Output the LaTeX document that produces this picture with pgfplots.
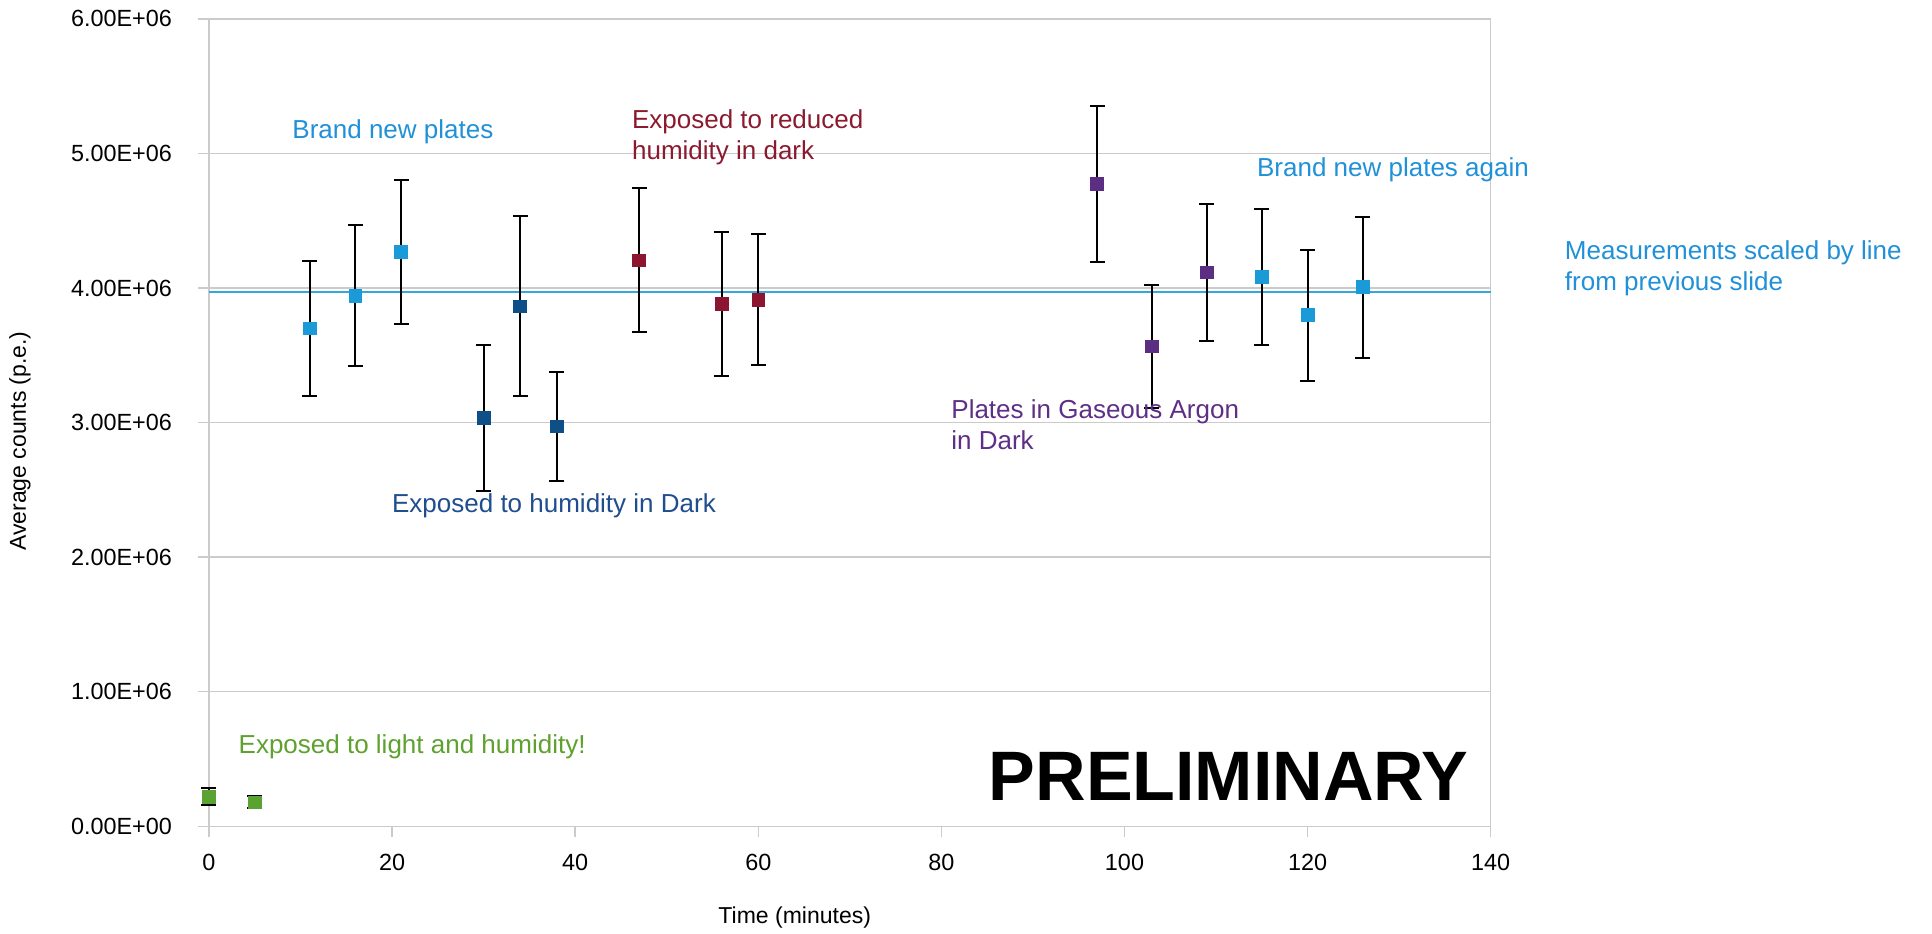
\documentclass[border=0pt]{standalone}
\usepackage{fontspec}
\setmainfont{Liberation Sans}
\usepackage{pgfplots}
\pgfplotsset{compat=1.18}
\definecolor{cLight}{HTML}{1A9AD6}
\definecolor{cDark}{HTML}{0E4F87}
\definecolor{cRed}{HTML}{8C1530}
\definecolor{cPurple}{HTML}{5B2D83}
\definecolor{cGreen}{HTML}{5AA332}
\definecolor{cLine}{HTML}{33A8DF}
\definecolor{tLight}{HTML}{2090D8}
\definecolor{tDark}{HTML}{1F4D8F}
\definecolor{tRed}{HTML}{8B1A2E}
\definecolor{tPurple}{HTML}{5E2F86}
\definecolor{tGreen}{HTML}{5EA12F}
\definecolor{gridc}{HTML}{CBCBCB}
\pgfplotsset{errstyle/.style={only marks, mark=square*, mark size=3.2pt,
  error bars/.cd, y dir=both, y explicit,
  error bar style={black, line width=1pt},
  error mark options={black, line width=1pt, mark size=3.75pt, rotate=90}}}
\begin{document}
\begin{tikzpicture}
\begin{axis}[
  at={(0,0)}, anchor=south west, name=ax,
  scale only axis, width=640.85pt, height=403.75pt,
  xmin=0, xmax=140, ymin=0, ymax=6000000,
  xtick={0,20,40,60,80,100,120,140},
  xticklabels={0,20,40,60,80,100,120,140},
  ytick={0,1000000,2000000,3000000,4000000,5000000,6000000},
  yticklabels={0.00E+00,1.00E+06,2.00E+06,3.00E+06,4.00E+06,5.00E+06,6.00E+06},
  scaled y ticks=false,
  ymajorgrids, major grid style={gridc, line width=0.75pt},
  axis line style={gridc, line width=0.75pt},
  tick style={gridc, line width=0.75pt},
  tick align=outside, major tick length=5.5pt,
  xtick pos=bottom, ytick pos=left,
  ticklabel style={font=\fontsize{11.7}{13}\selectfont, black},
  yticklabel style={xshift=-9.5pt},
  xticklabel style={yshift=-5pt},
  xlabel={Time (minutes)}, ylabel={Average counts (p.e.)},
  label style={font=\fontsize{11.5}{13}\selectfont},
  xlabel style={at={(axis description cs:0.457,0)}, anchor=center, yshift=-45.5pt},
  ylabel style={at={(axis description cs:-0.1475,0.477)}, anchor=center},
  clip=false,
]
\addplot[color=cLine, line width=1.4pt] coordinates {(0,3970000) (140,3970000)};
\addplot[color=cLight, fill=cLight, errstyle] coordinates {
 (11,3700000) +- (0,500000)
 (16,3943000) +- (0,523000)
 (21,4270000) +- (0,534000)
 (115,4082000) +- (0,505000)
 (120,3797000) +- (0,485000)
 (126,4005000) +- (0,523000)
};
\addplot[color=cDark, fill=cDark, errstyle] coordinates {
 (30,3033000) +- (0,542000)
 (34,3863000) +- (0,669000)
 (38,2971000) +- (0,402000)
};
\addplot[color=cRed, fill=cRed, errstyle] coordinates {
 (47,4205000) +- (0,535000)
 (56,3881000) +- (0,535000)
 (60,3913000) +- (0,489000)
};
\addplot[color=cPurple, fill=cPurple, errstyle] coordinates {
 (97,4773000) +- (0,581000)
 (103,3566000) +- (0,459000)
 (109,4116000) +- (0,510000)
};
\addplot[color=cGreen, fill=cGreen, errstyle] coordinates {
 (0,220000) +- (0,65000)
 (5,178000) +- (0,45000)
};
\tikzset{ann/.style={anchor=west, inner sep=0pt, align=left, font=\fontsize{13}{15.5}\selectfont}}
\node[ann, text=tLight] at (axis cs:9.07,5162000) {Brand new plates};
\node[ann, text=tRed] at (axis cs:46.17,5123000) {Exposed to reduced\\humidity in dark};
\node[ann, text=tDark] at (axis cs:19.96,2384000) {Exposed to humidity in Dark};
\node[ann, text=tPurple] at (axis cs:81.05,2987000) {Plates in Gaseous Argon\\in Dark};
\node[ann, text=tLight] at (axis cs:114.44,4880000) {Brand new plates again};
\node[ann, text=tLight] at (axis cs:148.07,4148000) {Measurements scaled by line\\from previous slide};
\node[ann, text=tGreen] at (axis cs:3.2,592000) {Exposed to light and humidity!};
\node[inner sep=0pt, anchor=center, font=\fontsize{35}{40}\selectfont\bfseries] at (axis cs:111.37,368000) {PRELIMINARY};
\end{axis}
\pgfresetboundingbox
\path[use as bounding box] (-104.5pt,-53.35pt) rectangle (861.5pt,413.15pt);
\end{tikzpicture}
\end{document}
